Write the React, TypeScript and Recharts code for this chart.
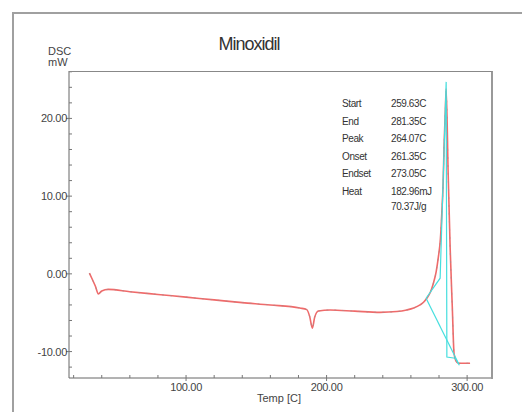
import React from 'react';
import { LineChart, Line, XAxis, YAxis } from 'recharts';

// DSC trace (temperature in C, heat flow in mW)
const temps = [31.2, 33, 35.5, 37.6, 40, 44.7, 60, 80, 100, 120, 140, 160, 181, 185.9, 188, 189.9, 191.5, 194.2, 202.5, 220, 238, 250, 257, 262, 266.5, 269, 271.3, 274, 276, 278, 279.6, 281, 282, 283, 283.6, 284.5, 285.1, 286.5, 287.9, 289.5, 290.7, 292, 293.8, 298, 302.1];
const dsc = [0.1, -0.6, -1.6, -2.58, -2.2, -2.0, -2.3, -2.65, -3.0, -3.35, -3.7, -4.0, -4.4, -4.6, -5.5, -7.0, -5.6, -4.78, -4.65, -4.8, -4.95, -4.85, -4.65, -4.4, -4.0, -3.65, -3.14, -2.3, -1.2, 0.3, 2.24, 4.5, 7.84, 12, 16.4, 21, 23.8, 13, 3.5, -4.5, -10.25, -11.2, -11.5, -11.5, -11.5];

// analysis construction lines
const tangentTemps = [270.8, 280.8, 285.1, 285.6, 291.5, 294.5];
const tangentVals = [-3.14, -0.56, 24.7, -10.7, -10.85, -11.76];
const baseTemps = [270.8, 293.8];
const baseVals = [-3.14, -11.5];

const xTicks = [20, 40, 60, 80, 100, 120, 140, 160, 180, 200, 220, 240, 260, 280, 300];
const yTicks = [-12, -10, -8, -6, -4, -2, 0, 2, 4, 6, 8, 10, 12, 14, 16, 18, 20, 22, 24, 26];

const resultLabels = ['Start', 'End', 'Peak', 'Onset', 'Endset', 'Heat', ''];
const resultValues = ['259.63C', '281.35C', '264.07C', '261.35C', '273.05C', '182.96mJ', '70.37J/g'];
const resultRows = [104, 122, 139, 157, 174, 192, 207];

const font = '"Liberation Sans", Arial, sans-serif';

const trace = temps.map((t, i) => ({ t, v: dsc[i] }));
const tangent = tangentTemps.map((t, i) => ({ t, v: tangentVals[i] }));
const baseline = baseTemps.map((t, i) => ({ t, v: baseVals[i] }));

const YTick = (props: any) => {
  const { x, y, payload } = props;
  const major = payload.value % 10 === 0;
  return (
    <g>
      <line x1={major ? x - 3 : x} x2={x + 3} y1={y} y2={y} stroke="#777" />
      {major && (
        <text x={x - 2} y={y} dy={4} textAnchor="end" fontSize={11} fill="#444" fontFamily={font} letterSpacing={-0.3}>
          {payload.value.toFixed(2)}
        </text>
      )}
    </g>
  );
};

const XTick = (props: any) => {
  const { x, y, payload } = props;
  const major = payload.value % 100 === 0;
  return (
    <g>
      <line x1={x} x2={x} y1={y - 3} y2={major ? y + 3 : y} stroke="#777" />
      {major && (
        <text x={x} y={y + 13} textAnchor="middle" fontSize={11} fill="#444" fontFamily={font} letterSpacing={-0.3}>
          {payload.value.toFixed(2)}
        </text>
      )}
    </g>
  );
};

export default function App() {
  return (
    <div style={{ position: 'absolute', left: 0, top: 0, width: 522, height: 412, background: '#fff', overflow: 'hidden', fontFamily: font }}>
      <div style={{ position: 'absolute', left: 12, top: 12, width: 530, height: 430, border: '2px solid #a0a0a0' }} />
      <LineChart width={522} height={412} data={trace} margin={{ top: 71, right: 31, bottom: 4, left: 10 }} style={{ position: 'absolute', left: 0, top: 0 }}>
        <XAxis dataKey="t" type="number" domain={[16.7, 317]} ticks={xTicks} interval={0} tick={<XTick />} tickLine={false} tickSize={0} tickMargin={0} height={30} axisLine={{ stroke: '#666' }} allowDataOverflow />
        <YAxis type="number" domain={[-13.4, 26.1]} ticks={yTicks} interval={0} tick={<YTick />} tickLine={false} tickSize={0} tickMargin={0} width={59} axisLine={{ stroke: '#666' }} allowDataOverflow />
        <Line data={trace} dataKey="v" type="monotone" stroke="#f06a6a" strokeWidth={1.6} dot={false} isAnimationActive={false} />
        <Line data={trace} dataKey="v" type="monotone" stroke="#b98585" strokeWidth={0.8} strokeDasharray="2 6" dot={false} isAnimationActive={false} />
        <Line data={tangent} dataKey="v" type="linear" stroke="#45dede" strokeWidth={1.2} dot={false} isAnimationActive={false} />
        <Line data={baseline} dataKey="v" type="linear" stroke="#45dede" strokeWidth={1.2} dot={false} isAnimationActive={false} />
      </LineChart>
      {/* top and right edges of the plot frame */}
      <div style={{ position: 'absolute', left: 69, top: 71, width: 422, height: 307, borderTop: '1px solid #888', borderRight: '2px solid #999', pointerEvents: 'none' }} />
      <div style={{ position: 'absolute', left: 0, width: 498, top: 34, textAlign: 'center', fontSize: 18, letterSpacing: -1, color: '#333' }}>Minoxidil</div>
      <div style={{ position: 'absolute', left: 48, top: 46, fontSize: 11, color: '#444', lineHeight: '11px' }}>DSC</div>
      <div style={{ position: 'absolute', left: 48, top: 57, fontSize: 11, color: '#444', lineHeight: '11px' }}>mW</div>
      <div style={{ position: 'absolute', left: 257, top: 392, fontSize: 11, color: '#444', lineHeight: '13px' }}>Temp [C]</div>
      {resultValues.map((val, i) => (
        <React.Fragment key={i}>
          <div style={{ position: 'absolute', left: 342, top: resultRows[i] - 6, fontSize: 10, color: '#333', letterSpacing: -0.4, lineHeight: '12px' }}>{resultLabels[i]}</div>
          <div style={{ position: 'absolute', left: 391, top: resultRows[i] - 6, fontSize: 10, color: '#333', letterSpacing: -0.4, lineHeight: '12px' }}>{val}</div>
        </React.Fragment>
      ))}
    </div>
  );
}
